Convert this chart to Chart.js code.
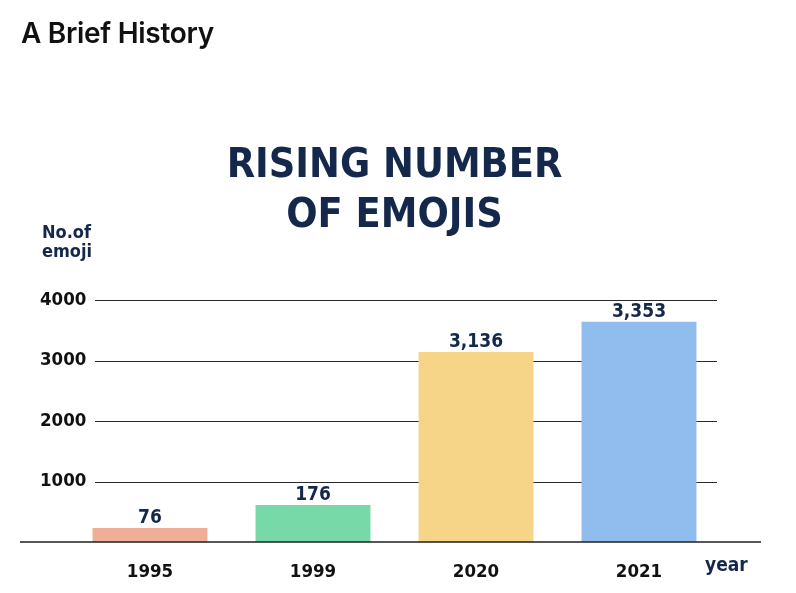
<!DOCTYPE html>
<html>
<head>
<meta charset="utf-8">
<script src="https://cdn.jsdelivr.net/npm/chart.js@4"></script>
<style>
  html, body { margin: 0; padding: 0; background: #fff; }
  #wrap { position: relative; width: 796px; height: 593px; }
  #head {
    position: absolute; left: 21px; top: 16px;
    font-family: Inter, sans-serif; font-weight: 600; font-size: 28px;
    color: #111; letter-spacing: -0.3px;
  }
  canvas { position: absolute; left: 0; top: 0; }
</style>
</head>
<body>
<div id="wrap">
  <canvas id="emojiChart" width="796" height="593"></canvas>
  <div id="head">A Brief History</div>
</div>
<script>
// years on the x axis
const years = ["1995", "1999", "2020", "2021"];
// bar heights as drawn in the picture (y scale units)
const barHeights = [230, 610, 3140, 3640];
// numbers printed above the bars
const emojiCounts = [76, 176, 3136, 3353];
// y axis ticks
const yTicks = [1000, 2000, 3000, 4000];
const barColors = ["#efae98", "#78d9a8", "#f6d488", "#90bdee"];

const navy = "#14284b";
const condensed = "'DejaVu Sans Condensed', 'DejaVu Sans', sans-serif";

const decorPlugin = {
    id: "decor",
    beforeDatasetsDraw(chart){
        const ctx = chart.ctx;
        const y = chart.scales.y;
        ctx.save();
        ctx.strokeStyle = "#2a2a2a";
        ctx.lineWidth = 1;
        yTicks.forEach(v=>{
            const py = Math.round(y.getPixelForValue(v)) + 0.5;
            ctx.beginPath();
            ctx.moveTo(95, py);
            ctx.lineTo(717, py);
            ctx.stroke();
        });
        ctx.restore();
    },
    afterDatasetsDraw(chart){
        const ctx = chart.ctx;
        const y = chart.scales.y;
        const meta = chart.getDatasetMeta(0);
        ctx.save();
        // baseline
        ctx.strokeStyle = "#1e1e1e";
        ctx.lineWidth = 1.6;
        const by = y.getPixelForValue(0);
        ctx.beginPath();
        ctx.moveTo(20, by);
        ctx.lineTo(761, by);
        ctx.stroke();

        // value labels
        ctx.fillStyle = navy;
        ctx.font = "bold 19px " + condensed;
        ctx.textAlign = "center";
        ctx.textBaseline = "alphabetic";
        meta.data.forEach((bar,i)=>{
            ctx.fillText(emojiCounts[i].toLocaleString("en-US"), bar.x, bar.y - 5);
        });

        // axis captions
        ctx.textAlign = "left";
        ctx.font = "bold 18px " + condensed;
        ctx.fillText("No.of", 42, 238);
        ctx.fillText("emoji", 42, 257);
        ctx.font = "bold 19px " + condensed;
        ctx.fillText("year", 705, 571);
        ctx.restore();
    }
};

new Chart(document.getElementById("emojiChart"), {
    type: "bar",
    data: {
        labels: years,
        datasets: [{
            data: barHeights,
            backgroundColor: barColors,
            borderWidth: 0,
            barPercentage: 0.705,
            categoryPercentage: 1
        }]
    },
    options: {
        responsive: false,
        animation: false,
        layout: { padding: { left: 40, right: 75.5, top: 0, bottom: 0 } },
        plugins: {
            legend: { display: false },
            tooltip: { enabled: false },
            title: {
                display: true,
                fullSize: false,
                text: ["RISING NUMBER", "OF EMOJIS"],
                color: navy,
                font: { family: condensed, size: 41, weight: "bold", lineHeight: 1.22 },
                padding: { top: 141, bottom: 59 }
            }
        },
        scales: {
            x: {
                grid: { display: false },
                border: { display: false },
                ticks: {
                    color: "#111",
                    padding: 11,
                    font: { family: condensed, size: 18.5, weight: "bold" }
                },
                afterFit(scale){ scale.height = 51; }
            },
            y: {
                min: 0,
                max: 4000,
                grid: { display: false },
                border: { display: false },
                ticks: {
                    stepSize: 1000,
                    mirror: true,
                    crossAlign: "near",
                    padding: -28.5,
                    color: "#111",
                    font: { family: condensed, size: 18.5, weight: "bold" },
                    callback: v => v === 0 ? "" : String(v)
                },
                afterFit(scale){ scale.width = 28.5; }
            }
        }
    },
    plugins: [decorPlugin]
});
</script>
</body>
</html>
